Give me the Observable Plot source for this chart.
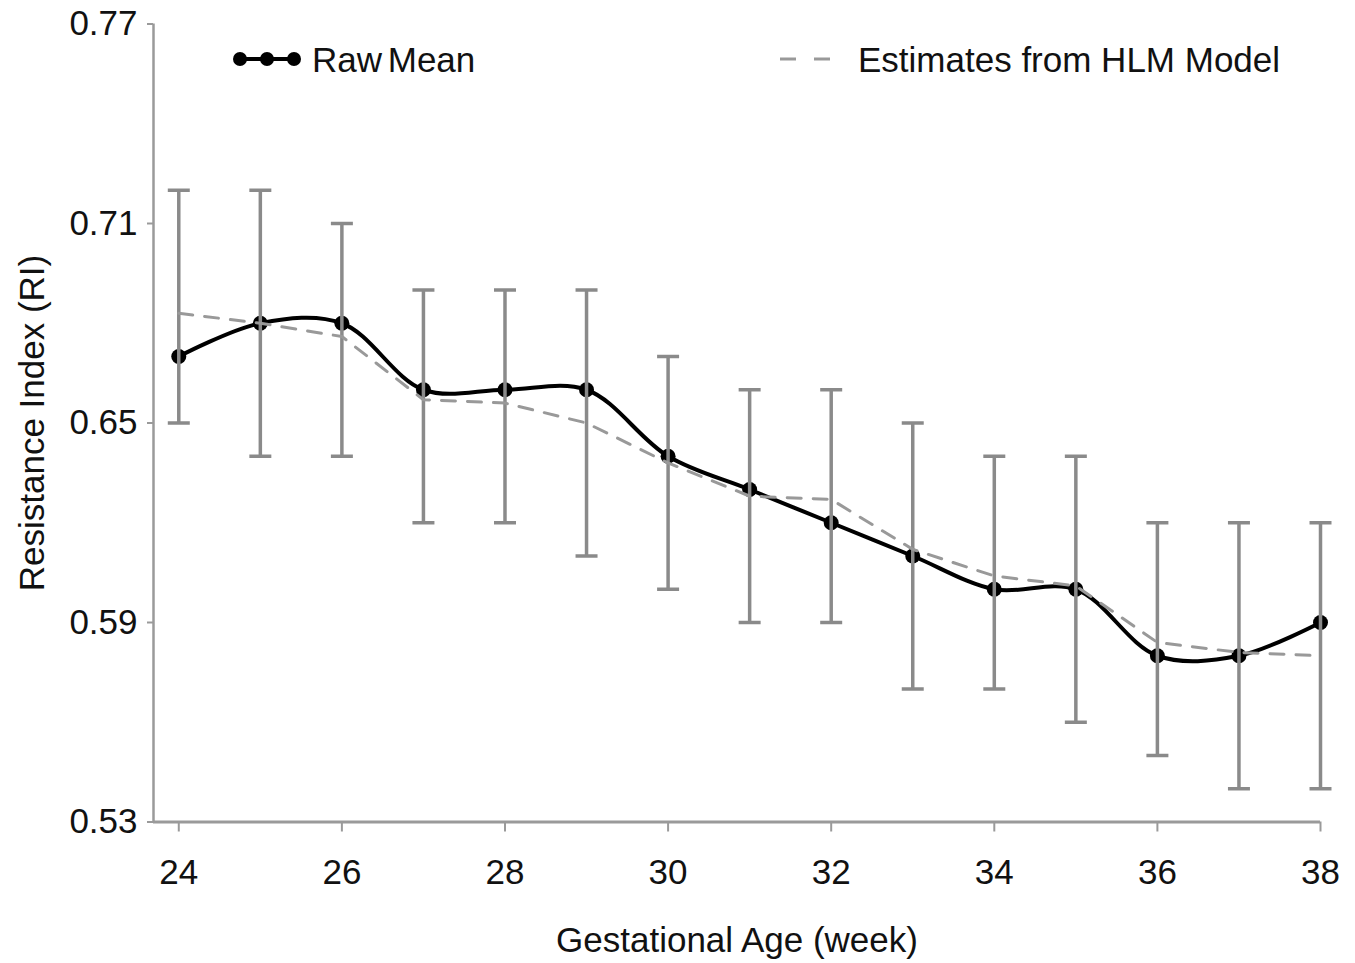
<!DOCTYPE html>
<html>
<head>
<meta charset="utf-8">
<script src="https://cdn.jsdelivr.net/npm/d3@7"></script>
<script src="https://cdn.jsdelivr.net/npm/@observablehq/plot@0.6"></script>
<style>
  html, body { margin: 0; padding: 0; background: #fff; }
  #wrap { position: relative; width: 1355px; height: 963px; font-family: "Liberation Sans", Arial, sans-serif; }
  .leg { position: absolute; display: flex; align-items: center; font-size: 35px; color: #111; white-space: nowrap; }
  .leg svg { display: block; }
</style>
</head>
<body>
<div id="wrap"></div>
<script>
// ---- data ----
const weeks = [24, 25, 26, 27, 28, 29, 30, 31, 32, 33, 34, 35, 36, 37, 38];
const rawMean = [0.670, 0.680, 0.680, 0.660, 0.660, 0.660, 0.640, 0.630, 0.620, 0.610, 0.600, 0.600, 0.580, 0.580, 0.590];
const upper   = [0.720, 0.720, 0.710, 0.690, 0.690, 0.690, 0.670, 0.660, 0.660, 0.650, 0.640, 0.640, 0.620, 0.620, 0.620];
const lower   = [0.650, 0.640, 0.640, 0.620, 0.620, 0.610, 0.600, 0.590, 0.590, 0.570, 0.570, 0.560, 0.550, 0.540, 0.540];
const hlm     = [0.683, 0.680, 0.676, 0.657, 0.656, 0.650, 0.638, 0.628, 0.627, 0.612, 0.604, 0.601, 0.584, 0.581, 0.580];
const xTicks = [24, 26, 28, 30, 32, 34, 36, 38];
const yTicks = [0.53, 0.59, 0.65, 0.71, 0.77];
const xDomain = [23.69, 38];
const yDomain = [0.53, 0.77];
const xLabel = "Gestational Age (week)";
const yLabel = "Resistance Index (RI)";
const seriesNames = ["Raw Mean", "Estimates from HLM Model"];

const rows = weeks.map((w, i) => ({week: w, mean: rawMean[i], up: upper[i], lo: lower[i], hlm: hlm[i]}));

const capSymbol = {
  draw(ctx, size) {
    const r = Math.sqrt(size / Math.PI);
    ctx.moveTo(-r, 0);
    ctx.lineTo(r, 0);
  }
};

const axisColor = "#9a9a9a";
const barColor = "#8a8a8a";

const chart = Plot.plot({
  width: 1355,
  height: 963,
  marginLeft: 153,
  marginRight: 35,
  marginTop: 23.5,
  marginBottom: 141.5,
  style: {fontFamily: "Liberation Sans, Arial, sans-serif", fontSize: "35px", color: "#111", background: "#fff"},
  x: {domain: xDomain, ticks: xTicks, tickFormat: d => String(d)},
  y: {domain: yDomain, ticks: yTicks, tickFormat: d => d.toFixed(2)},
  marks: [
    Plot.ruleY([yDomain[0]], {x1: xDomain[0], x2: xDomain[1], stroke: axisColor, strokeWidth: 3}),
    Plot.ruleX([xDomain[0]], {y1: yDomain[0], y2: yDomain[1], stroke: axisColor, strokeWidth: 2.5}),
    Plot.axisX({ticks: xTicks, tickSize: 10, tickPadding: 27, stroke: axisColor, strokeWidth: 2, fill: "#111", fontSize: 35, label: null}),
    Plot.axisY({ticks: yTicks, tickSize: 6, tickPadding: 10, stroke: axisColor, strokeWidth: 2, fill: "#111", fontSize: 35, label: null}),
    Plot.line(rows, {x: "week", y: "mean", curve: "catmull-rom", stroke: "#000", strokeWidth: 4}),
    Plot.dot(rows, {x: "week", y: "mean", r: 7.5, fill: "#000"}),
    Plot.ruleX(rows, {x: "week", y1: "lo", y2: "up", stroke: barColor, strokeWidth: 3.5}),
    Plot.dot(rows, {x: "week", y: "up", symbol: capSymbol, r: 11, stroke: barColor, strokeWidth: 3.5, fill: "none"}),
    Plot.dot(rows, {x: "week", y: "lo", symbol: capSymbol, r: 11, stroke: barColor, strokeWidth: 3.5, fill: "none"}),
    Plot.line(rows, {x: "week", y: "hlm", stroke: "#999", strokeWidth: 3, strokeDasharray: "14,12"}),
    Plot.text([xLabel], {frameAnchor: "bottom", dy: 118.5, lineAnchor: "middle", textAnchor: "middle", text: d => d, fontSize: 35, fill: "#111"}),
    Plot.text([yLabel], {frameAnchor: "left", dx: -121, rotate: -90, lineAnchor: "middle", textAnchor: "middle", text: d => d, fontSize: 35, fill: "#111"})
  ]
});

const wrap = document.getElementById("wrap");
wrap.appendChild(chart);

// legend overlay
const leg1 = document.createElement("div");
leg1.className = "leg";
leg1.style.left = "232px";
leg1.style.top = "38px";
leg1.innerHTML = `<svg width="72" height="44"><line x1="6" y1="21" x2="64" y2="21" stroke="#000" stroke-width="4"/><circle cx="8" cy="21" r="7" fill="#000"/><circle cx="35" cy="21" r="7" fill="#000"/><circle cx="62" cy="21" r="7" fill="#000"/></svg><span style="margin-left:8px;word-spacing:-4px">${seriesNames[0]}</span>`;
wrap.appendChild(leg1);

const leg2 = document.createElement("div");
leg2.className = "leg";
leg2.style.left = "778px";
leg2.style.top = "38px";
leg2.innerHTML = `<svg width="60" height="44"><line x1="2" y1="21" x2="54" y2="21" stroke="#999" stroke-width="3" stroke-dasharray="16,18"/></svg><span style="margin-left:20px">${seriesNames[1]}</span>`;
wrap.appendChild(leg2);
</script>
</body>
</html>
